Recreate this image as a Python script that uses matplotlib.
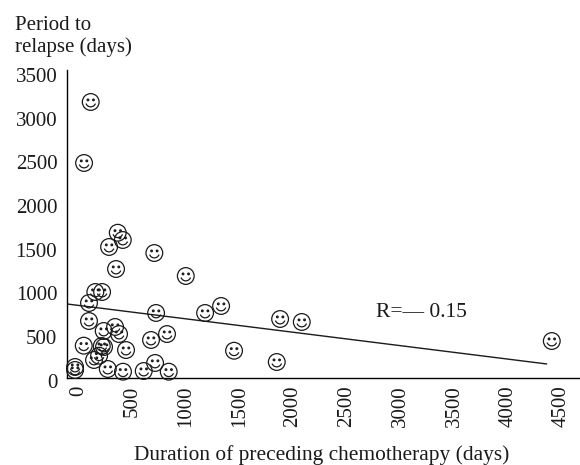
import numpy as np
import matplotlib
matplotlib.use("Agg")
import matplotlib.pyplot as plt
from matplotlib.path import Path
from matplotlib.markers import MarkerStyle
from matplotlib.transforms import Affine2D, ScaledTranslation

plt.rcParams['font.family'] = ['Liberation Serif', 'DejaVu Serif']

# values
chemo_days = [317, 445, 398, 739, 382, 1032, 189, 252, 130, 755, 1212, 1361, 1911, 2113,
              130, 373, 267, 410, 857, 708, 81, 249, 270, 475, 1482, 224, 177, 746, 1880,
              305, 447, 640, 873, 0, 0, 146, 84, 4443]
relapse_days = [1499, 1579, 1662, 1430, 1247, 1167, 984, 984, 858, 744, 744, 824, 675, 641,
                652, 584, 538, 503, 503, 435, 370, 366, 355, 320, 312, 255, 206, 172, 183,
                103, 72, 80, 72, 92, 126, 3158, 2460, 423]
fit_x = [-75, 4400]
fit_y = [847, 160]
x_ticks = [0, 500, 1000, 1500, 2000, 2500, 3000, 3500, 4000, 4500]
y_ticks = [0, 500, 1000, 1500, 2000, 2500, 3000, 3500]

# smiley marker
circle = Path.unit_circle()
eye_l = circle.transformed(Affine2D().scale(0.1).translate(-0.33, 0.25))
eye_r = circle.transformed(Affine2D().scale(0.1).translate(0.33, 0.25))
mouth = Path.arc(200, 340).transformed(Affine2D().scale(0.6).translate(0, 0.02))
smiley = MarkerStyle(Path.make_compound_path(circle, eye_l, eye_r, mouth))

fig = plt.figure(figsize=(5.8, 4.65), dpi=100)
ax = fig.add_axes([67 / 580, (465 - 378) / 465, 513 / 580, 308 / 465])

ax.plot(fit_x, fit_y, color='#1a1a1a', lw=1.0, solid_capstyle='butt')
ax.scatter(chemo_days, relapse_days, s=145, marker=smiley, facecolors='none',
           edgecolors='#1a1a1a', linewidths=0.9, clip_on=False, zorder=3)

ax.set_xlim(-75, 4706)
ax.set_ylim(0, 3524)
ax.spines['top'].set_visible(False)
ax.spines['right'].set_visible(False)
ax.spines['left'].set_linewidth(1.0)
ax.spines['bottom'].set_linewidth(1.0)
ax.set_xticks(x_ticks)
ax.set_yticks(y_ticks)
ax.tick_params(axis='both', length=0, labelsize=15, colors='#1a1a1a')
ax.tick_params(axis='x', rotation=90, pad=5.5)
ax.tick_params(axis='y', pad=7)

# tick labels sit a little off the ticks in the scan
y_shift = ScaledTranslation(0, -2 / 72, fig.dpi_scale_trans)
for lab in ax.get_yticklabels():
    lab.set_transform(lab.get_transform() + y_shift)
x_shift = ScaledTranslation(2.5 / 72, 0, fig.dpi_scale_trans)
for lab in ax.get_xticklabels():
    lab.set_transform(lab.get_transform() + x_shift)

fig.text(376 / 580, 1 - 312 / 465, 'R=\u2014 0.15', fontsize=15.5, va='center', color='#1a1a1a')
fig.text(15 / 580, 1 - 25 / 465, 'Period to', fontsize=15, va='center', color='#1a1a1a')
fig.text(15 / 580, 1 - 47 / 465, 'relapse (days)', fontsize=15, va='center', color='#1a1a1a')
fig.text(322 / 580, 1 - 455 / 465, 'Duration of preceding chemotherapy (days)', fontsize=15.4,
         ha='center', va='center', color='#1a1a1a')

fig.savefig('out.png', dpi=100)
